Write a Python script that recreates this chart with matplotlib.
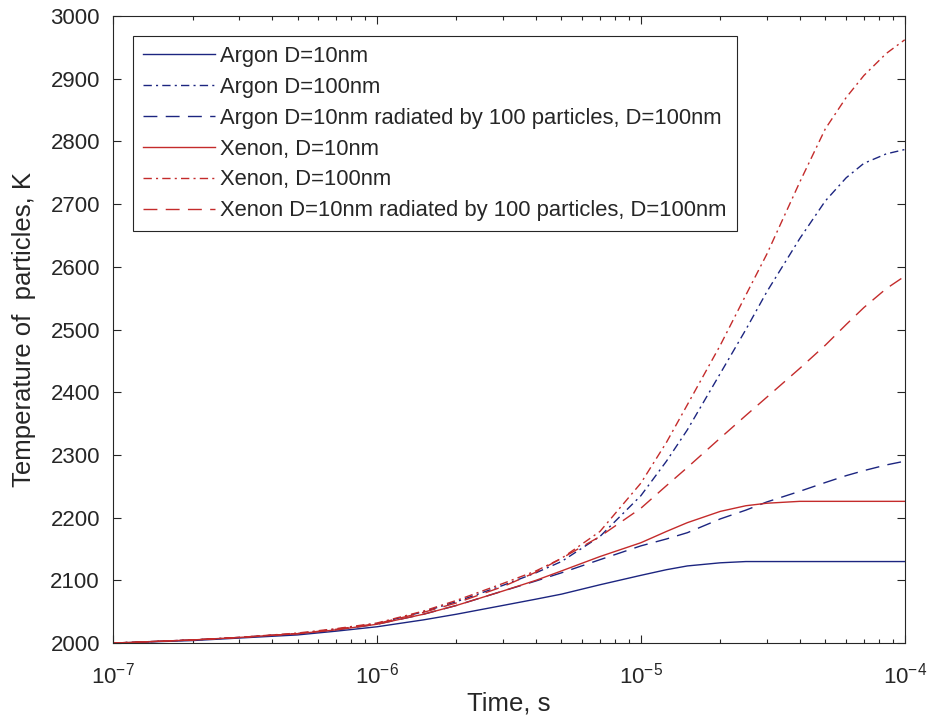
import numpy as np
import matplotlib.pyplot as plt

plt.rcParams["font.family"] = ["Liberation Sans", "DejaVu Sans"]
plt.rcParams["mathtext.fontset"] = "custom"
plt.rcParams["mathtext.rm"] = "Liberation Sans"
plt.rcParams["mathtext.it"] = "Liberation Sans:italic"

# ------------------------------------------------------------
# data
# ------------------------------------------------------------
time_s = [1e-7, 2e-7, 3e-7, 5e-7, 7e-7, 1e-6, 1.5e-6, 2e-6, 3e-6, 4e-6,
          5e-6, 7e-6, 1e-5, 1.25e-5, 1.5e-5, 2e-5, 2.5e-5, 3e-5, 4e-5,
          5e-5, 6e-5, 7e-5, 8.5e-5, 1e-4]

argon_10 = [2000, 2004, 2008, 2013, 2019, 2026, 2037, 2046, 2060, 2070,
            2078, 2093, 2108, 2117, 2123, 2128, 2130, 2130, 2130,
            2130, 2130, 2130, 2130, 2130]
argon_100 = [2000, 2005, 2009, 2015, 2022, 2031, 2050, 2066, 2092, 2112,
             2130, 2170, 2235, 2290, 2340, 2430, 2500, 2560, 2645,
             2705, 2742, 2765, 2780, 2787]
argon_10_rad = [2000, 2005, 2009, 2015, 2021, 2030, 2046, 2060, 2083, 2099,
                2112, 2133, 2155, 2166, 2176, 2198, 2212, 2225, 2242,
                2256, 2267, 2275, 2284, 2290]
xenon_10 = [2000, 2005, 2009, 2015, 2021, 2030, 2046, 2060, 2083, 2100,
            2115, 2138, 2160, 2178, 2192, 2210, 2219, 2223, 2226,
            2226, 2226, 2226, 2226, 2226]
xenon_100 = [2000, 2005, 2009, 2016, 2023, 2032, 2051, 2068, 2095, 2115,
             2135, 2178, 2255, 2320, 2380, 2475, 2555, 2620, 2735,
             2820, 2870, 2905, 2940, 2962]
xenon_10_rad = [2000, 2005, 2009, 2015, 2022, 2031, 2049, 2064, 2090, 2113,
                2135, 2170, 2215, 2251, 2280, 2327, 2363, 2392, 2438,
                2475, 2508, 2535, 2565, 2585]

labels = [
    "Argon D=10nm",
    "Argon D=100nm",
    "Argon D=10nm radiated by 100 particles, D=100nm",
    "Xenon, D=10nm",
    "Xenon, D=100nm",
    "Xenon D=10nm radiated by 100 particles, D=100nm",
]

BLUE = "#1c2580"
RED = "#c42b2b"
TXT = "#262626"

fig = plt.figure(figsize=(9.27, 7.25), dpi=100)
ax = fig.add_axes([0.122, 0.113, 0.854, 0.865])

series = [argon_10, argon_100, argon_10_rad, xenon_10, xenon_100, xenon_10_rad]
colors = [BLUE, BLUE, BLUE, RED, RED, RED]
dashdot = (0, (6, 3, 1.5, 3))
dashed = (0, (10, 6))
styles = ["-", dashdot, dashed, "-", dashdot, dashed]

for y, c, ls, lab in zip(series, colors, styles, labels):
    ax.plot(time_s, y, color=c, linestyle=ls, linewidth=1.0, label=lab)

ax.set_xscale("log")
ax.set_xlim(1e-7, 1e-4)
ax.set_ylim(2000, 3000)
ax.set_yticks(np.arange(2000, 3001, 100))

ax.tick_params(axis="both", which="both", direction="in", top=True, right=True,
               labelsize=16, colors=TXT, width=0.8)
ax.tick_params(axis="both", which="major", length=6)
ax.tick_params(axis="y", which="major", pad=9.5)
ax.tick_params(axis="x", which="major", pad=14)
ax.tick_params(axis="x", which="minor", length=3)
for s in ax.spines.values():
    s.set_color(TXT)
    s.set_linewidth(0.8)

ax.set_xlabel("Time, s", fontsize=18.5, color=TXT)
ax.set_ylabel("Temperature of  particles, K", fontsize=18.5, color=TXT)
ax.xaxis.set_label_coords(0.5, -0.078)
ax.yaxis.set_label_coords(-0.098, 0.5)

leg = ax.legend(loc="upper left", bbox_to_anchor=(0.025, 0.968), fontsize=15.8,
                fancybox=False, framealpha=1, edgecolor=TXT, handlelength=3.3,
                handletextpad=0.23, labelspacing=0.45, borderpad=0.45,
                borderaxespad=0)
leg.get_frame().set_linewidth(0.8)
for t in leg.get_texts():
    t.set_color(TXT)

fig.savefig("out.png", dpi=100)
